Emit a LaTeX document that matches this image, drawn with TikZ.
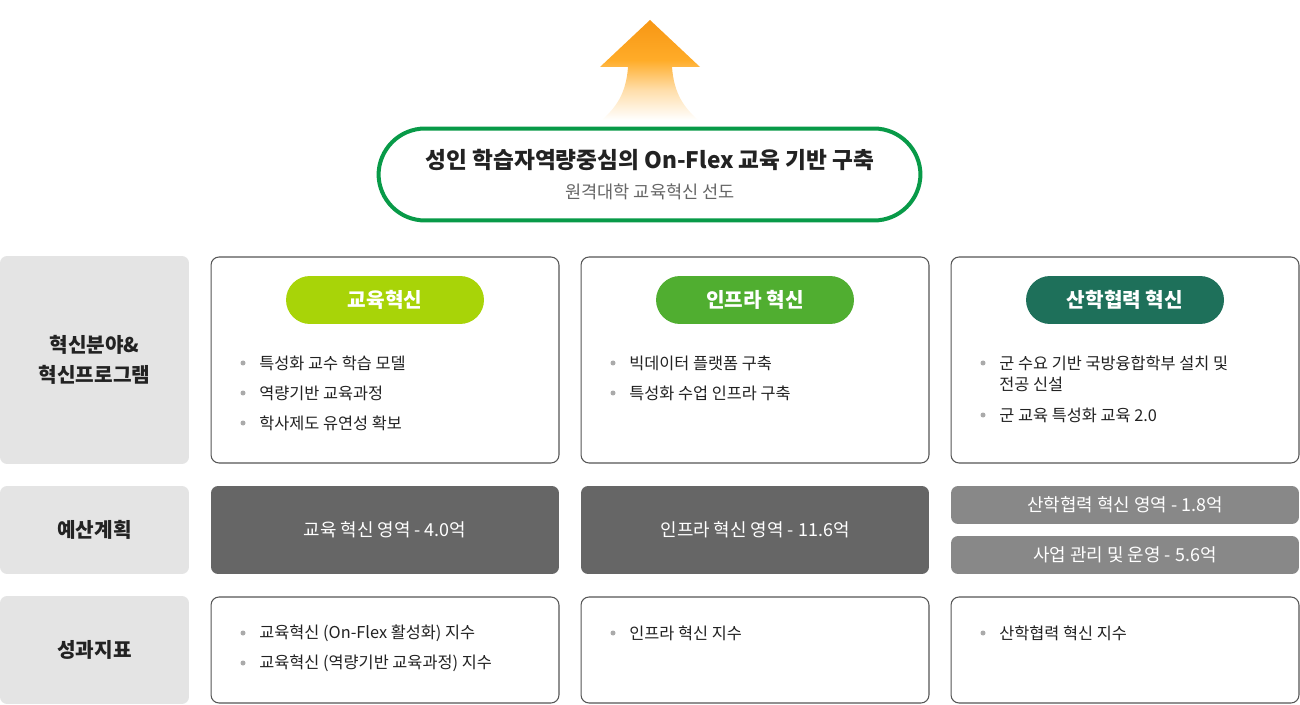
\documentclass[tikz,border=0pt]{standalone}
\usepackage{fontspec}
\setmainfont{Noto Sans CJK KR}
\usetikzlibrary{positioning,shapes}

\definecolor{flexgreen}{RGB}{8,154,72}
\definecolor{tagedu}{RGB}{168,212,8}
\definecolor{taginfra}{RGB}{80,174,48}
\definecolor{tagind}{RGB}{30,112,90}
\definecolor{sidegray}{RGB}{228,228,228}
\definecolor{cardline}{RGB}{85,85,85}
\definecolor{budgetdark}{RGB}{102,102,102}
\definecolor{budgetlight}{RGB}{136,136,136}
\definecolor{textdark}{RGB}{34,34,34}
\definecolor{subgray}{RGB}{102,102,102}
\definecolor{dotgray}{RGB}{170,170,170}
\definecolor{arrowdeep}{RGB}{247,150,20}
\definecolor{arroworange}{RGB}{255,172,40}
\definecolor{arrowlight}{RGB}{255,222,170}

\pgfdeclareverticalshading{arrowfade}{100bp}{color(0bp)=(white); color(25bp)=(white); color(40bp)=(arrowlight); color(55bp)=(arroworange); color(75bp)=(arrowdeep); color(100bp)=(arrowdeep)}

\begin{document}
\begin{tikzpicture}[x=0.02cm,y=-0.02cm,
    sidebox/.style={fill=sidegray, rounded corners=0.14cm, minimum width=3.78cm, inner sep=0pt,
      align=center, text=textdark, font=\bfseries\fontsize{11.5}{17}\selectfont},
    card/.style={draw=cardline, line width=0.6pt, fill=white, rounded corners=0.16cm,
      minimum width=6.96cm, inner sep=0pt},
    tag/.style={rounded corners=0.48cm, minimum width=3.96cm, minimum height=0.96cm,
      inner sep=0pt, text=white, font=\bfseries\fontsize{11.5}{13}\selectfont},
    budget/.style={rounded corners=0.14cm, minimum width=6.96cm, inner sep=0pt,
      text=white, font=\fontsize{10.2}{12}\selectfont},
    item/.style={anchor=west, inner sep=0pt, align=left, text=textdark,
      font=\fontsize{9.3}{12}\selectfont},
    dot/.style={circle, fill=dotgray, minimum size=0.1cm, inner sep=0pt}]
  \useasboundingbox (0,0) rectangle (1300,705);

  % arrow on top
  \path[shading=arrowfade] (650,20) -- (700,67) -- (672,67)
    .. controls (674,95) and (685,108) .. (698,120) -- (602,120)
    .. controls (615,108) and (626,95) .. (628,67) -- (600,67) -- cycle;

  % goal
  \node[draw=flexgreen, line width=0.08cm, fill=white, rounded corners=0.93cm,
    minimum width=10.84cm, minimum height=1.84cm] (goal) at (649.5,174.5) {};
  \node[text=textdark, font=\bfseries\fontsize{12.9}{15}\selectfont] (goaltitle) at (650,160)
    {성인 학습자역량중심의 On-Flex 교육 기반 구축};
  \node[text=subgray, font=\fontsize{10}{12}\selectfont] (goalsub) at (650,192)
    {원격대학 교육혁신 선도};

  % left column
  \node[sidebox, minimum height=4.16cm] (field) at (94.5,360) {혁신분야\&\\혁신프로그램};
  \node[sidebox, minimum height=1.76cm] (plan) at (94.5,530) {예산계획};
  \node[sidebox, minimum height=2.16cm] (kpi) at (94.5,650) {성과지표};

  % cards
  \foreach \n/\x in {edu/385, infra/755, ind/1125} {
    \node[card, minimum height=4.12cm] (\n card) at (\x,360) {};
    \node[card, minimum height=2.12cm] (\n kpi) at (\x,650) {};
  }

  \node[tag, fill=tagedu] (edutag) at (385,300) {교육혁신};
  \node[tag, fill=taginfra] (infratag) at (755,300) {인프라 혁신};
  \node[tag, fill=tagind] (indtag) at (1125,300) {산학협력 혁신};

  % programs
  \foreach \t [count=\i] in {특성화 교수 학습 모델, 역량기반 교육과정, 학사제도 유연성 확보} {
    \node[dot] (edudot\i) at (243,333+30*\i) {};
    \node[item] (eduitem\i) at (259,333+30*\i) {\t};
  }
  \foreach \t [count=\i] in {빅데이터 플랫폼 구축, 특성화 수업 인프라 구축} {
    \node[dot] (infradot\i) at (613,333+30*\i) {};
    \node[item] (infraitem\i) at (629,333+30*\i) {\t};
  }
  \node[dot] (inddot1) at (983,363) {};
  \node[item] (inditem1) at (999,373.5) {군 수요 기반 국방융합학부 설치 및\\전공 신설};
  \node[dot] (inddot2) at (983,415) {};
  \node[item] (inditem2) at (999,415) {군 교육 특성화 교육 2.0};

  % budget
  \node[budget, fill=budgetdark, minimum height=1.76cm] (edubudget) at (385,530) {교육 혁신 영역 - 4.0억};
  \node[budget, fill=budgetdark, minimum height=1.76cm] (infrabudget) at (755,530) {인프라 혁신 영역 - 11.6억};
  \node[budget, fill=budgetlight, minimum height=0.76cm] (indbudget) at (1125,505) {산학협력 혁신 영역 - 1.8억};
  \node[budget, fill=budgetlight, minimum height=0.76cm] (opbudget) at (1125,555) {사업 관리 및 운영 - 5.6억};

  % indicators
  \foreach \t [count=\i] in {교육혁신 (On-Flex 활성화) 지수, 교육혁신 (역량기반 교육과정) 지수} {
    \node[dot] (edukdot\i) at (243,603+30*\i) {};
    \node[item] (edukitem\i) at (259,603+30*\i) {\t};
  }
  \node[dot] (infrakdot) at (613,633) {};
  \node[item] (infrakitem) at (629,633) {인프라 혁신 지수};
  \node[dot] (indkdot) at (983,633) {};
  \node[item] (indkitem) at (999,633) {산학협력 혁신 지수};
\end{tikzpicture}
\end{document}
